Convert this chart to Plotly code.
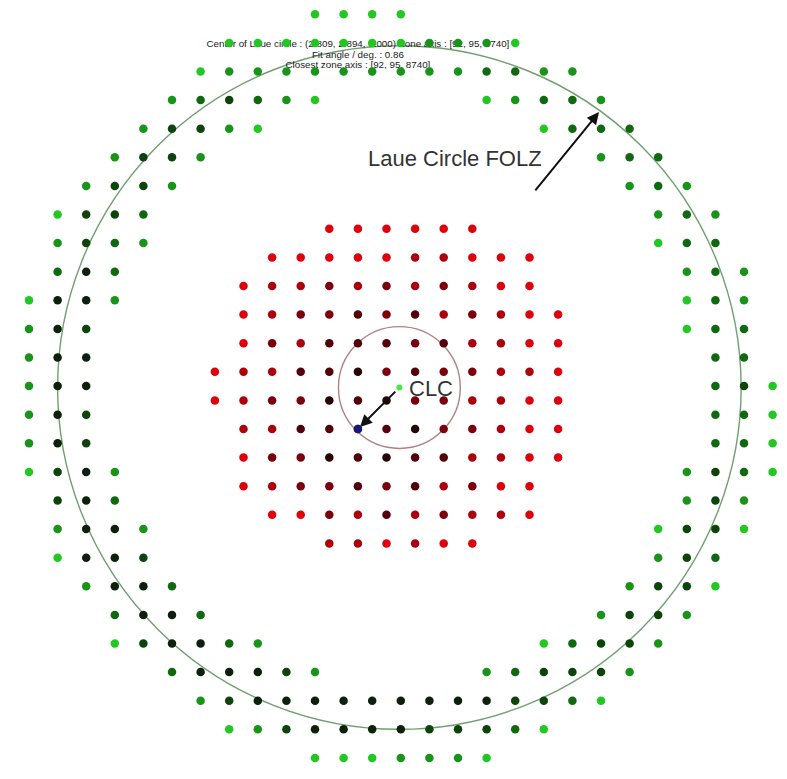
import plotly.graph_objects as go

# ---- FOLZ reflections (first-order Laue zone), integer lattice sites ----
# each entry: (row, first column, shade of each consecutive spot); 0 = bright, 4 = darkest
FOLZ_ROWS = [
    (0, 10, [0, 0, 0, 0]),
    (1, 7, [0, 0, 0, 0, 0, 0, 0, 1, 1, 1, 0]),
    (2, 6, [0, 1, 1, 1, 1, 1, 1, 1, 1, 1, 2, 2, 1, 1]),
    (3, 5, [1, 2, 3, 2, 1, 0]), (3, 16, [0, 1, 2, 2, 1]),
    (4, 4, [1, 3, 3, 1, 0]), (4, 18, [0, 2, 2, 2]),
    (5, 3, [1, 3, 3, 1]), (5, 20, [1, 2, 2]),
    (6, 2, [1, 3, 3, 1]), (6, 21, [1, 2, 1]),
    (7, 1, [0, 3, 3, 2]), (7, 22, [1, 2, 1]),
    (8, 1, [1, 3, 2, 1]), (8, 22, [0, 2, 2]),
    (9, 1, [2, 4, 2]), (9, 23, [1, 2, 1]),
    (10, 0, [0, 4, 4, 1]), (10, 23, [0, 2, 1]),
    (11, 0, [1, 4, 3]), (11, 23, [0, 2, 2]),
    (12, 0, [1, 4, 4]), (12, 24, [2, 2]),
    (13, 0, [1, 4, 4]), (13, 24, [2, 3, 0]),
    (14, 0, [1, 4, 3]), (14, 24, [2, 2, 0]),
    (15, 0, [1, 4, 3]), (15, 24, [2, 2, 0]),
    (16, 0, [0, 3, 4, 1]), (16, 23, [1, 3, 2, 0]),
    (17, 1, [3, 4, 2]), (17, 23, [1, 3, 1]),
    (18, 1, [1, 4, 4, 1]), (18, 22, [0, 3, 3, 0]),
    (19, 1, [0, 4, 4, 3]), (19, 22, [1, 3, 2]),
    (20, 2, [1, 4, 4, 2]), (20, 21, [1, 3, 3, 0]),
    (21, 3, [2, 4, 4, 2]), (21, 20, [1, 3, 3, 1]),
    (22, 3, [0, 3, 4, 4, 2, 1]), (22, 18, [0, 2, 3, 3, 1]),
    (23, 5, [2, 4, 4, 4, 3, 1]), (23, 16, [1, 2, 3, 3, 3, 1]),
    (24, 6, [1, 3, 4, 4, 4, 4, 4, 4, 4, 4, 4, 3, 3, 2, 0]),
    (25, 7, [0, 1, 3, 4, 4, 4, 4, 3, 3, 3, 2, 0]),
    (26, 10, [0, 0, 0, 1, 1, 1, 0]),
]

# ---- ZOLZ reflections (zero-order Laue zone), half-integer lattice sites ----
ZOLZ_ROWS = [
    (7, 10, [0, 0, 0, 0, 0, 0]),
    (8, 8, [0, 0, 0, 0, 0, 1, 1, 0, 0, 0]),
    (9, 7, [0, 1, 1, 2, 1, 2, 1, 2, 1, 0, 0]),
    (10, 7, [0, 1, 2, 2, 3, 2, 3, 1, 2, 1, 0, 0]),
    (11, 7, [0, 2, 1, 3, 3, 3, 2, 3, 1, 1, 0, 0]),
    (12, 6, [0, 1, 1, 3, 3, 4, 2, 3, 2, 2, 1, 1, 0]),
    (13, 6, [0, 1, 2, 2, 4, 3, 4, 2, 2, 1, 1, 0, 0]),
    (14, 7, [1, 1, 3, 3, 3, 3, 4, 2, 2, 1, 0, 0]),
    (15, 7, [0, 2, 2, 4, 3, 4, 3, 3, 1, 1, 0, 0]),
    (16, 7, [0, 1, 2, 2, 3, 2, 3, 1, 2, 0, 0]),
    (17, 8, [0, 0, 2, 1, 3, 1, 2, 1, 1, 0]),
    (18, 10, [1, 1, 0, 1, 0, 0]),
]

CLC = (-0.05, -0.05)          # centre of the Laue circle
ZONE_SPOT = (-1.5, -1.5)      # closest zone-axis spot
LAUE_RADIUS = 11.95
INNER_RADIUS = 2.13

TITLE_LINES = [
    "Center of Laue circle : (2.809, 2.894, 0.000) Zone axis : [92, 95, 8740]",
    "Fit angle / deg. : 0.86",
    "Closest zone axis : [92, 95, 8740]",
]

GREEN_SHADES = ["rgb(34,200,34)", "rgb(24,148,24)", "rgb(16,104,16)",
                "rgb(12,68,12)", "rgb(12,32,12)"]
RED_SHADES = ["rgb(222,0,12)", "rgb(172,0,12)", "rgb(124,0,12)",
              "rgb(84,0,10)", "rgb(38,4,6)"]


def expand(rows, offset):
    xs, ys, shades = [], [], []
    for row, col0, vals in rows:
        for i, s in enumerate(vals):
            xs.append(col0 + i - 13 + offset)
            ys.append(13 - row - offset)
            shades.append(s)
    return xs, ys, shades


fx, fy, fs = expand(FOLZ_ROWS, 0.0)
zx, zy, zs = expand(ZOLZ_ROWS, 0.5)

FONT = "Arial, Liberation Sans, Helvetica, sans-serif"

fig = go.Figure()

# header text sits underneath the spots
fig.add_trace(go.Scatter(
    x=[-1.5, -1.5, -1.5], y=[11.93, 11.55, 11.2],
    mode="text", text=TITLE_LINES,
    textfont=dict(family=FONT, size=9.8, color="#1a1a1a"),
    hoverinfo="skip", showlegend=False))

fig.add_trace(go.Scatter(
    x=fx, y=fy, mode="markers",
    marker=dict(size=8.5, color=[GREEN_SHADES[s] for s in fs], line=dict(width=0)),
    showlegend=False))
fig.add_trace(go.Scatter(
    x=zx, y=zy, mode="markers",
    marker=dict(size=8.5, color=[RED_SHADES[s] for s in zs], line=dict(width=0)),
    showlegend=False))
fig.add_trace(go.Scatter(
    x=[ZONE_SPOT[0]], y=[ZONE_SPOT[1]], mode="markers",
    marker=dict(size=8.5, color="rgb(22,22,130)", line=dict(width=0)),
    showlegend=False))
fig.add_trace(go.Scatter(
    x=[CLC[0]], y=[CLC[1]], mode="markers",
    marker=dict(size=6, color="rgb(70,230,70)", line=dict(width=0)),
    showlegend=False))

cx, cy = CLC
fig.add_shape(type="circle", xref="x", yref="y",
              x0=cx - LAUE_RADIUS, x1=cx + LAUE_RADIUS,
              y0=cy - LAUE_RADIUS, y1=cy + LAUE_RADIUS,
              line=dict(color="rgb(110,160,110)", width=1.4), layer="below")
fig.add_shape(type="circle", xref="x", yref="y",
              x0=cx - INNER_RADIUS, x1=cx + INNER_RADIUS,
              y0=cy - INNER_RADIUS, y1=cy + INNER_RADIUS,
              line=dict(color="rgb(178,128,128)", width=1.4), layer="below")

# arrows and labels
fig.add_annotation(x=ZONE_SPOT[0], y=ZONE_SPOT[1], ax=-0.14, ay=-0.14,
                   xref="x", yref="y", axref="x", ayref="y",
                   showarrow=True, arrowhead=2, arrowsize=1.2, arrowwidth=2,
                   arrowcolor="#111111", standoff=3, text="")
fig.add_annotation(x=6.93, y=9.58, ax=4.66, ay=6.79,
                   xref="x", yref="y", axref="x", ayref="y",
                   showarrow=True, arrowhead=2, arrowsize=1.2, arrowwidth=2,
                   arrowcolor="#111111", text="")
fig.add_annotation(x=0.22, y=-0.07, xref="x", yref="y", showarrow=False,
                   xanchor="left", yanchor="middle", text="CLC",
                   font=dict(family=FONT, size=22, color="#333333"))
fig.add_annotation(x=1.895, y=7.975, xref="x", yref="y", showarrow=False,
                   xanchor="center", yanchor="middle", text="Laue Circle FOLZ",
                   font=dict(family=FONT, size=22, color="#333333"))

fig.update_xaxes(range=[-14.014, 13.503], visible=False, showgrid=False, zeroline=False)
fig.update_yaxes(range=[-13.738, 13.5], visible=False, showgrid=False, zeroline=False)
fig.update_layout(width=787, height=779, autosize=False,
                  margin=dict(l=0, r=0, t=0, b=0),
                  paper_bgcolor="white", plot_bgcolor="white")

fig.write_html("out.html")
